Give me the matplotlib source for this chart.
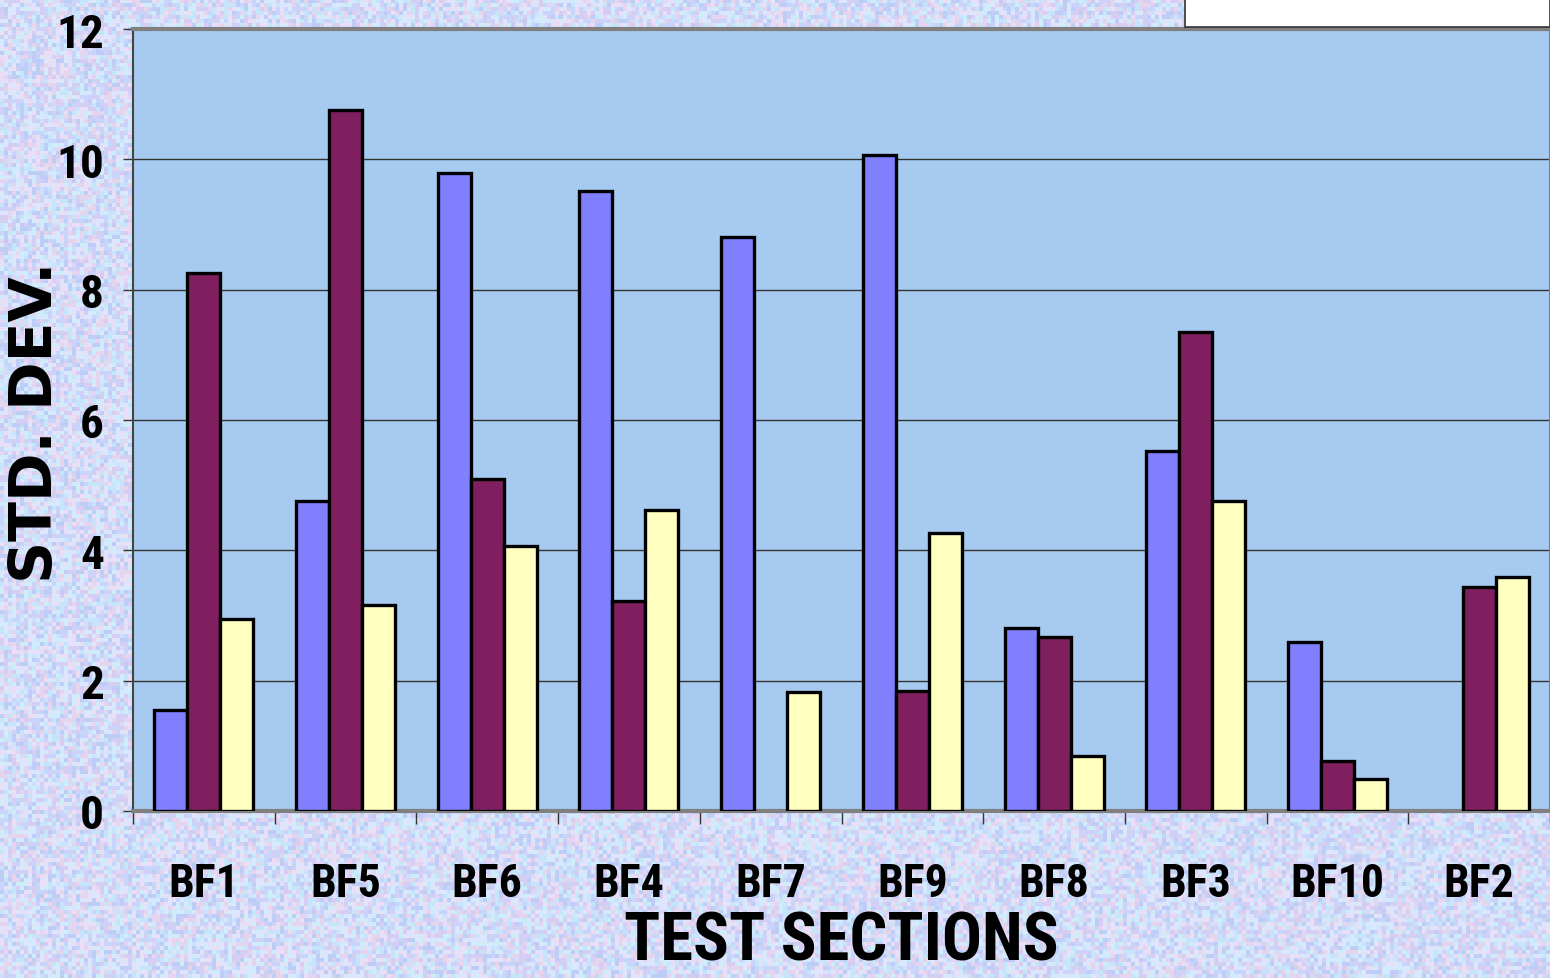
import numpy as np
import matplotlib
matplotlib.use("Agg")
import matplotlib.pyplot as plt
from matplotlib.patches import Rectangle

sections = ["BF1", "BF5", "BF6", "BF4", "BF7", "BF9", "BF8", "BF3", "BF10", "BF2"]
series_a = [1.55, 4.76, 9.79, 9.51, 8.81, 10.07, 2.81, 5.52, 2.59, np.nan]
series_b = [8.26, 10.76, 5.09, 3.22, np.nan, 1.84, 2.67, 7.35, 0.77, 3.44]
series_c = [2.95, 3.16, 4.07, 4.62, 1.83, 4.27, 0.84, 4.76, 0.49, 3.59]
yticks = [0, 2, 4, 6, 8, 10, 12]

narrow = ["Roboto Condensed", "Archivo Narrow", "Barlow Condensed", "DejaVu Sans"]
wide = ["DejaVu Sans"]

fig = plt.figure(figsize=(15.5, 9.79), dpi=100)

# pastel speckled backdrop
rng = np.random.default_rng(3)
palette = np.array([
    [200, 212, 250], [214, 206, 242], [228, 212, 238], [198, 228, 250],
    [220, 230, 252], [190, 205, 245], [232, 222, 245], [208, 236, 250],
]) / 255.0
h, w = 979 // 4 + 1, 1550 // 4 + 1
tex = palette[rng.integers(0, len(palette), size=(h, w))]
bg = fig.add_axes([0, 0, 1, 1], zorder=0)
bg.imshow(tex, aspect="auto", interpolation="nearest", extent=[0, 1, 0, 1])
bg.set_axis_off()

ax = fig.add_axes([133 / 1550, 167 / 979, 1417 / 1550, 782 / 979], zorder=1)
ax.set_facecolor("#A6CAF0")

x = np.arange(len(sections))
bw = 0.233
kw = dict(width=bw, edgecolor="black", linewidth=2.4, zorder=3)
ax.bar(x - bw, series_a, color="#8080FF", **kw)
ax.bar(x, series_b, color="#7F1F5F", **kw)
ax.bar(x + bw, series_c, color="#FFFFC0", **kw)

ax.set_xlim(-0.5, len(sections) - 0.5)
ax.set_ylim(0, 12)
ax.set_yticks(yticks)
ax.set_yticklabels([str(v) for v in yticks], fontsize=34, fontweight="bold",
                   family=narrow)
ax.yaxis.grid(True, color="#333333", linewidth=1.0, zorder=0)
ax.set_axisbelow(True)

ax.set_xticks(x)
ax.set_xticklabels(sections, fontsize=33, fontweight="bold", family=narrow)
ax.set_xticks(np.arange(len(sections) + 1) - 0.5, minor=True)
ax.tick_params(axis="x", which="major", length=0, pad=36)
ax.tick_params(axis="x", which="minor", length=9, width=1.0, direction="out",
               color="#333333")
ax.tick_params(axis="y", length=7, width=1.0, direction="out", pad=14,
               color="#333333")

for side in ["top", "bottom"]:
    ax.spines[side].set_color("#808080")
    ax.spines[side].set_linewidth(3)
ax.spines["left"].set_color("#444444")
ax.spines["left"].set_linewidth(1.5)
ax.spines["right"].set_color("#808080")
ax.spines["right"].set_linewidth(1.5)

fig.text(841 / 1550, 1 - 943 / 979, "TEST SECTIONS", ha="center", va="center",
         fontsize=48, fontweight="bold", family=narrow)
fig.text(36 / 1550, 1 - 422 / 979, "STD. DEV.", ha="center", va="center",
         rotation=90, fontsize=42, fontweight="bold", family=wide)

# legend box clipped at the top edge
fig.patches.append(Rectangle((1185 / 1550, 1 - 28 / 979), 365 / 1550, 28 / 979 + 0.01,
                             transform=fig.transFigure, facecolor="white",
                             edgecolor="#333333", linewidth=1.2, zorder=5))

fig.savefig("out.png", dpi=100)
